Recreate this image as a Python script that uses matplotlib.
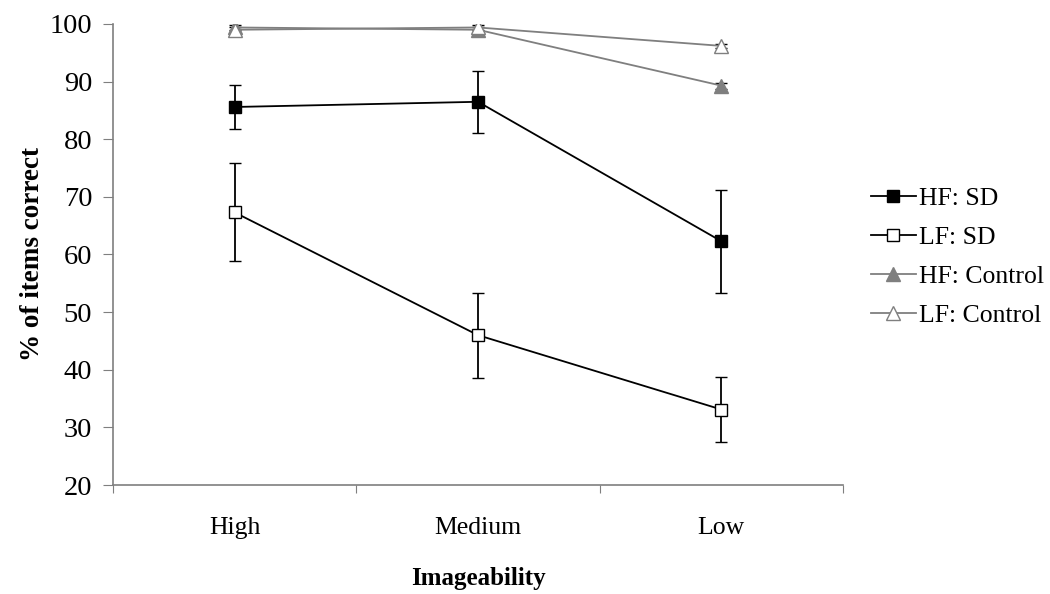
import numpy as np
import matplotlib
matplotlib.use("Agg")
import matplotlib.pyplot as plt

plt.rcParams['font.family'] = ['Liberation Serif', 'DejaVu Serif']

categories = ['High', 'Medium', 'Low']

hf_sd = [85.6, 86.5, 62.3]
hf_sd_err = [3.8, 5.4, 8.9]

lf_sd = [67.3, 46.0, 33.1]
lf_sd_err = [8.5, 7.4, 5.6]

hf_ctrl = [99.4, 99.0, 89.3]
hf_ctrl_err = [0.4, 0.4, 0.5]

lf_ctrl = [99.0, 99.4, 96.2]
lf_ctrl_err = [0.4, 0.4, 0.4]

x = np.arange(len(categories)) + 0.5
grey = '#7f7f7f'

fig = plt.figure(figsize=(10.5, 5.94), dpi=100)
ax = fig.add_axes([0.1076, 0.1835, 0.6953, 0.7761])

c1 = ax.errorbar(x, hf_sd, yerr=hf_sd_err, color='black', lw=1.3, marker='s',
                 ms=9, mfc='black', mec='black', capsize=4.5, elinewidth=1.3,
                 zorder=3)
c2 = ax.errorbar(x, lf_sd, yerr=lf_sd_err, color='black', lw=1.3, marker='s',
                 ms=9, mfc='white', mec='black', capsize=4.5, elinewidth=1.3,
                 zorder=3)
c3 = ax.errorbar(x, hf_ctrl, yerr=hf_ctrl_err, color=grey, lw=1.3, marker='^',
                 ms=9.5, mfc=grey, mec=grey, ecolor='black', capsize=4.5,
                 elinewidth=1.0, zorder=2)
c4 = ax.errorbar(x, lf_ctrl, yerr=lf_ctrl_err, color=grey, lw=1.3, marker='^',
                 ms=9.5, mfc='white', mec=grey, ecolor='black', capsize=4.5,
                 elinewidth=1.0, zorder=2)

ax.set_xlim(0, 3)
ax.set_ylim(20, 100)
ax.set_yticks(np.arange(20, 101, 10))
ax.set_xticks([0, 1, 2, 3])
ax.set_xticklabels([])
ax.set_xticks(x, minor=True)
ax.set_xticklabels(categories, minor=True)
ax.tick_params(axis='x', which='minor', length=0, pad=23, labelsize=18.5)
ax.tick_params(axis='x', which='major', length=6, direction='out', color=grey)
ax.tick_params(axis='y', length=7, direction='out', color=grey, labelsize=20.5, pad=8)

for side in ['top', 'right']:
    ax.spines[side].set_visible(False)
for side in ['left', 'bottom']:
    ax.spines[side].set_color(grey)
    ax.spines[side].set_linewidth(1.2)

ax.set_xlabel('Imageability', fontsize=18, fontweight='bold', labelpad=20)
ax.set_ylabel('% of items correct', fontsize=19.5, fontweight='bold', labelpad=3)

ax.legend([c1[0], c2[0], c3[0], c4[0]],
          ['HF: SD', 'LF: SD', 'HF: Control', 'LF: Control'],
          loc='center left', bbox_to_anchor=(1.006, 0.494), frameon=False,
          fontsize=18.5, handlelength=1.75, handletextpad=0.12, labelspacing=0.62)

fig.savefig('out.png', dpi=100)
